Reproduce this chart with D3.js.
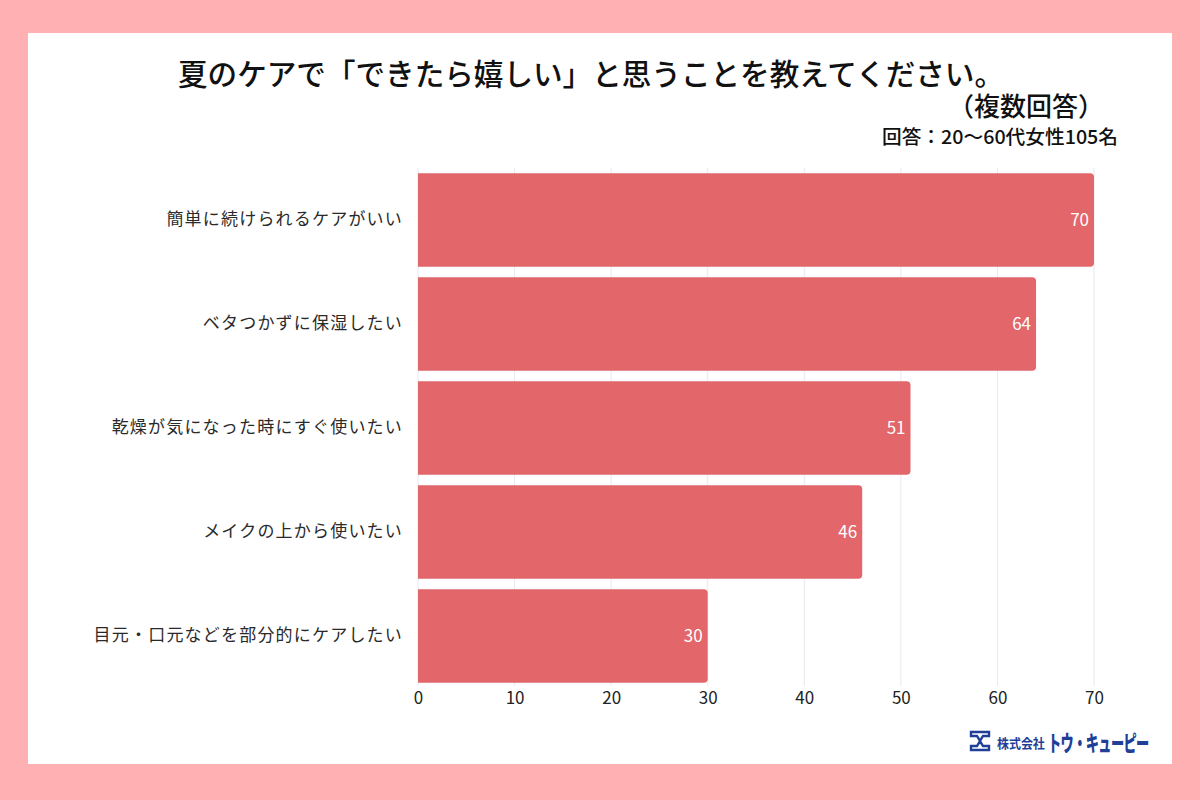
<!DOCTYPE html>
<html lang="ja">
<head>
<meta charset="utf-8">
<title>夏のケア</title>
<script src="https://cdn.jsdelivr.net/npm/d3@7"></script>
<style>
  html, body { margin: 0; padding: 0; background: #ffb0b3; }
  svg { display: block; font-family: "Noto Sans CJK JP", "Noto Sans", sans-serif; }
</style>
</head>
<body>
<script>
// data
var categories = [
  "簡単に続けられるケアがいい",
  "ベタつかずに保湿したい",
  "乾燥が気になった時にすぐ使いたい",
  "メイクの上から使いたい",
  "目元・口元などを部分的にケアしたい"
];
var values = [70, 64, 51, 46, 30];
var xTicks = [0, 10, 20, 30, 40, 50, 60, 70];

var titleText = "夏のケアで「できたら嬉しい」と思うことを教えてください。";
var subTitle = "（複数回答）";
var noteText = "回答：20〜60代女性105名";

var w = 1200, h = 800;

var svg = d3.select("body").append("svg")
  .attr("width", w)
  .attr("height", h);

// pink frame + white card
svg.append("rect").attr("width", w).attr("height", h).attr("fill", "#ffb0b3");
svg.append("rect")
  .attr("x", 28).attr("y", 33)
  .attr("width", 1144).attr("height", 731)
  .attr("fill", "#ffffff");

// scales
var xScale = d3.scaleLinear().domain([0, 70]).range([418, 1094]);
var yScale = d3.scaleBand()
  .domain(categories)
  .range([168, 688])
  .paddingInner(0.1)
  .paddingOuter(0.05);

// grid lines
svg.append("g")
  .selectAll("line")
  .data(xTicks)
  .enter()
  .append("line")
  .attr("x1", function(d) { return xScale(d); })
  .attr("x2", function(d) { return xScale(d); })
  .attr("y1", 168)
  .attr("y2", 686)
  .attr("stroke", "#e8e8ee")
  .attr("stroke-width", 1);

// bars - rounded on the right only
var r = 4;
svg.append("g")
  .selectAll("path")
  .data(values)
  .enter()
  .append("path")
  .attr("d", function(d, i) {
    var x0 = xScale(0), x1 = xScale(d);
    var y0 = yScale(categories[i]), y1 = y0 + yScale.bandwidth();
    return "M" + x0 + "," + y0 +
           "H" + (x1 - r) +
           "Q" + x1 + "," + y0 + " " + x1 + "," + (y0 + r) +
           "V" + (y1 - r) +
           "Q" + x1 + "," + y1 + " " + (x1 - r) + "," + y1 +
           "H" + x0 + "Z";
  })
  .attr("fill", "#e2666a");

// value labels
svg.append("g")
  .selectAll("text")
  .data(values)
  .enter()
  .append("text")
  .text(function(d) { return d; })
  .attr("x", function(d) { return xScale(d) - 5; })
  .attr("y", function(d, i) { return yScale(categories[i]) + yScale.bandwidth() / 2; })
  .attr("dy", "0.35em")
  .attr("text-anchor", "end")
  .attr("font-size", "17px")
  .attr("fill", "#ffffff");

// category labels
var yAxis = d3.axisLeft(yScale).tickSize(0).tickPadding(15);
var yAxisG = svg.append("g")
  .attr("transform", "translate(418,0)")
  .call(yAxis);
yAxisG.select(".domain").remove();
yAxisG.selectAll("text")
  .attr("font-size", "17px")
  .attr("letter-spacing", "1.2px")
  .attr("fill", "#2a2a2a")
  .attr("font-family", "'Noto Sans CJK JP', sans-serif");

// x axis
var xAxis = d3.axisBottom(xScale).tickValues(xTicks).tickSize(0).tickPadding(6);
var xAxisG = svg.append("g")
  .attr("transform", "translate(0,686)")
  .call(xAxis);
xAxisG.select(".domain").remove();
xAxisG.selectAll("text")
  .attr("font-size", "17px")
  .attr("fill", "#222222")
  .attr("font-family", "'Noto Sans CJK JP', sans-serif");

// titles
svg.append("text")
  .text(titleText)
  .attr("x", 178).attr("y", 85)
  .attr("textLength", 826)
  .attr("lengthAdjust", "spacingAndGlyphs")
  .attr("font-size", "30px")
  .attr("font-weight", 500)
  .attr("fill", "#111111");

svg.append("text")
  .text(subTitle)
  .attr("x", 1104).attr("y", 116)
  .attr("text-anchor", "end")
  .attr("font-size", "26px")
  .attr("font-weight", 500)
  .attr("fill", "#111111");

svg.append("text")
  .text(noteText)
  .attr("x", 882).attr("y", 144)
  .attr("textLength", 236)
  .attr("lengthAdjust", "spacingAndGlyphs")
  .attr("font-size", "19px")
  .attr("font-weight", 500)
  .attr("fill", "#111111");

// logo
var logo = svg.append("g").attr("transform", "translate(970,731)");
logo.append("path")
  .attr("d", "M1,1H19V5H13L10,10L13,15H19V19H1V15H7L10,10L7,5H1Z")
  .attr("fill", "none")
  .attr("stroke", "#1f3f99")
  .attr("stroke-width", 2.4);
logo.append("g")
  .attr("transform", "translate(27,17) scale(0.92,1)")
  .append("text")
  .text("株式会社")
  .attr("font-size", "13px")
  .attr("font-weight", 700)
  .attr("fill", "#1f3f99");
logo.append("g")
  .attr("transform", "translate(78,20) scale(0.6,1)")
  .append("text")
  .text("トウ・キューピー")
  .attr("font-size", "22px")
  .attr("font-weight", 900)
  .attr("letter-spacing", "-1px")
  .attr("fill", "#1f3f99");
</script>
</body>
</html>
